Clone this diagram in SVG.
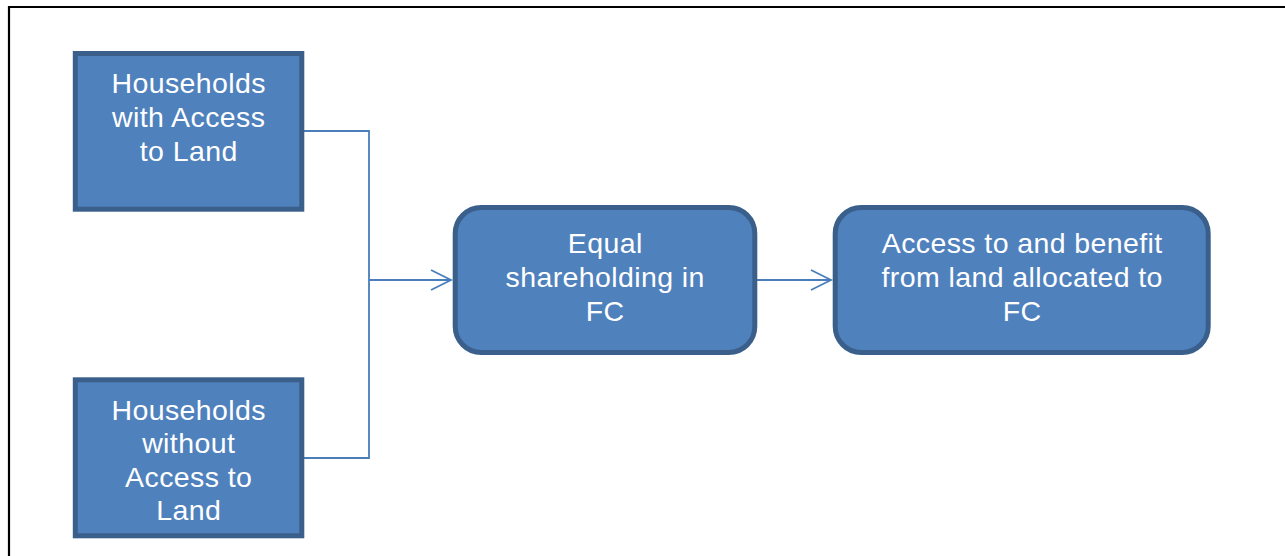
<svg xmlns="http://www.w3.org/2000/svg" width="1285" height="556" viewBox="0 0 1285 556">
<style>
.box{fill:#4F81BD;stroke:#3A5F8B;stroke-width:5}
.lbl{fill:#FFFFFF;font-family:"Liberation Sans",Arial,sans-serif;font-size:28.5px;letter-spacing:0.4px;text-anchor:middle}
.conn{fill:none;stroke:#4A7EBB;stroke-width:1.8}
</style>
<defs>
<marker id="arr" markerUnits="userSpaceOnUse" markerWidth="26" markerHeight="26" refX="21" refY="11" orient="auto" viewBox="0 0 26 22">
<path d="M1,1 L21,11 L1,21" fill="none" stroke="#4A7EBB" stroke-width="1.8"/>
</marker>
</defs>
<rect width="1285" height="556" fill="#FFFFFF"/>
<g id="frame">
<path d="M9,556 L9,7 L1285,7" fill="none" stroke="#000000" stroke-width="2.2"/>
</g>
<g id="connectors">
<path class="conn" d="M302,131 L369,131 L369,458 L302,458"/>
<path class="conn" d="M369,280 L451,280" marker-end="url(#arr)"/>
<path class="conn" d="M757,280 L831,280" marker-end="url(#arr)"/>
</g>
<g id="n1">
<rect class="box" x="75.3" y="53.5" width="226.5" height="155.7"/>
<text class="lbl" x="188.7" y="92.5">Households</text>
<text class="lbl" x="188.7" y="126.5">with Access</text>
<text class="lbl" x="188.7" y="160.5">to Land</text>
</g>
<g id="n2">
<rect class="box" x="75.3" y="379.8" width="226.5" height="156"/>
<text class="lbl" x="188.7" y="419.5">Households</text>
<text class="lbl" x="188.7" y="453">without</text>
<text class="lbl" x="188.7" y="486.5">Access to</text>
<text class="lbl" x="188.7" y="520">Land</text>
</g>
<g id="n3">
<rect class="box" x="455.2" y="207.5" width="299.6" height="145" rx="26" ry="26"/>
<text class="lbl" x="605.2" y="253">Equal</text>
<text class="lbl" x="605.2" y="287">shareholding in</text>
<text class="lbl" x="605.2" y="320.5">FC</text>
</g>
<g id="n4">
<rect class="box" x="835.2" y="207.5" width="373" height="145" rx="26" ry="26"/>
<text class="lbl" x="1022.2" y="253">Access to and benefit</text>
<text class="lbl" x="1022.2" y="287">from land allocated to</text>
<text class="lbl" x="1022.2" y="320.5">FC</text>
</g>
</svg>
